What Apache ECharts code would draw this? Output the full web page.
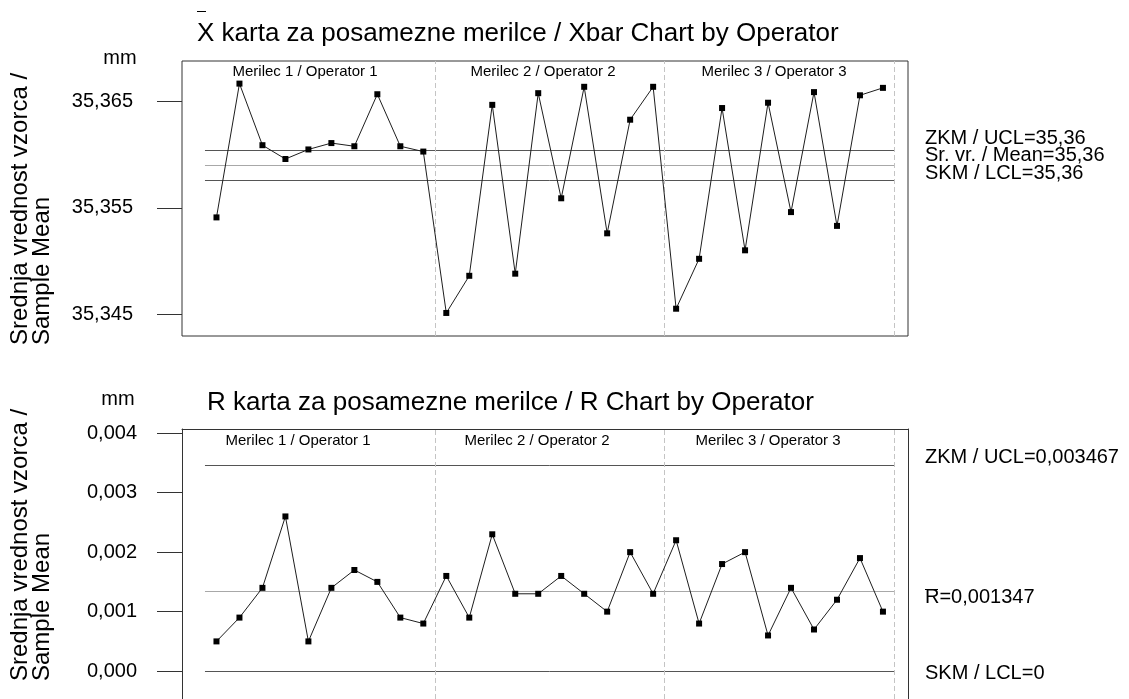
<!DOCTYPE html>
<html>
<head>
<meta charset="utf-8">
<script src="https://cdn.jsdelivr.net/npm/echarts@6/dist/echarts.min.js"></script>
<style>
  html, body { margin: 0; padding: 0; background: #fff; }
  #chart { width: 1129px; height: 699px; }
</style>
</head>
<body>
<div id="chart"></div>
<script>
// Sample numbers (subgroups), 10 per operator
const samples = [1, 2, 3, 4, 5, 6, 7, 8, 9, 10,
                 11, 12, 13, 14, 15, 16, 17, 18, 19, 20,
                 21, 22, 23, 24, 25, 26, 27, 28, 29, 30];
const operators = ['Merilec 1 / Operator 1', 'Merilec 2 / Operator 2', 'Merilec 3 / Operator 3'];
// Operator boundaries on the sample axis
const operatorBreaks = [10.5, 20.5, 30.5];

// Subgroup means (mm)
const xbarValues = [35.3541, 35.3667, 35.3609, 35.3596, 35.3605, 35.3611, 35.3608, 35.3657, 35.3608, 35.3603,
                    35.3451, 35.3486, 35.3647, 35.3488, 35.3658, 35.3559, 35.3664, 35.3526, 35.3633, 35.3664,
                    35.3455, 35.3502, 35.3644, 35.3510, 35.3649, 35.3546, 35.3659, 35.3533, 35.3656, 35.3663];
// Subgroup ranges (mm)
const rValues = [0.0005, 0.0009, 0.0014, 0.0026, 0.0005, 0.0014, 0.0017, 0.0015, 0.0009, 0.0008,
                 0.0016, 0.0009, 0.0023, 0.0013, 0.0013, 0.0016, 0.0013, 0.0010, 0.0020, 0.0013,
                 0.0022, 0.0008, 0.0018, 0.0020, 0.0006, 0.0014, 0.0007, 0.0012, 0.0019, 0.0010];

// Control limits
const xbarUCL = 35.3604, xbarMean = 35.3590, xbarLCL = 35.3576;
const rUCL = 0.003467, rLCL = 0;
const rBar = rValues.reduce((a, b) => a + b, 0) / rValues.length;

// Axis tick values
const xbarTicks = [35.345, 35.355, 35.365];
const rTicks = [0, 0.001, 0.002, 0.003, 0.004];

const FONT = '"Liberation Sans", Arial, sans-serif';
const FRAME = '#333';
const comma = (v, d) => v.toFixed(d).replace('.', ',');

const pairs = (vals) => vals.map((v, i) => [samples[i], v]);

function limitLine(y, color) {
  return [
    { coord: [0.5, y], lineStyle: { color: color, width: 1, type: 'solid' } },
    { coord: [30.5, y] }
  ];
}

function breakLines() {
  return operatorBreaks.map(x => ({
    xAxis: x,
    lineStyle: { color: '#c4c4c4', width: 1, type: [5, 3] }
  }));
}

const chart = echarts.init(document.getElementById('chart'), null, { renderer: 'canvas' });

const X_MIN = -0.5, X_MAX = 31.09;
const hidden = { axisTick: { show: false }, axisLabel: { show: false }, splitLine: { show: false } };

const yAxisBase = (ticks, decimals, margin, showLine) => ({
  type: 'value',
  axisLine: { show: showLine, onZero: false, lineStyle: { color: FRAME, width: 1 } },
  splitLine: { show: false },
  axisTick: {
    show: true, customValues: ticks, length: 25, inside: false,
    lineStyle: { color: FRAME, width: 1 }
  },
  axisLabel: {
    show: true, customValues: ticks, margin: margin,
    fontFamily: FONT, fontSize: 20, color: '#000',
    formatter: v => comma(v, decimals)
  }
});

const seriesStyle = {
  type: 'line',
  symbol: 'rect', symbolSize: 6,
  lineStyle: { color: '#1e1e1e', width: 1 },
  itemStyle: { color: '#000' },
  silent: true,
  z: 5
};

const texts = [];
function addText(x, y, text, size, align, rotation) {
  texts.push({
    type: 'text', x: x, y: y, rotation: rotation || 0, silent: true,
    style: {
      text: text, fontFamily: FONT, fontSize: size, fill: '#000',
      align: align || 'left', verticalAlign: 'middle'
    }
  });
}

// Panel titles
addText(197, 34, 'X karta za posamezne merilce / Xbar Chart by Operator', 26, 'left');
addText(207, 403, 'R karta za posamezne merilce / R Chart by Operator', 26, 'left');
// Units
addText(120, 58, 'mm', 20, 'center');
addText(118, 399, 'mm', 20, 'center');
// Rotated axis titles
addText(20, 345, 'Srednja vrednost vzorca /', 24, 'left', Math.PI / 2);
addText(42, 345, 'Sample Mean', 24, 'left', Math.PI / 2);
addText(20, 681, 'Srednja vrednost vzorca /', 24, 'left', Math.PI / 2);
addText(42, 681, 'Sample Mean', 24, 'left', Math.PI / 2);
// Operator labels
[305, 543, 774].forEach((x, i) => addText(x, 72, operators[i], 15, 'center'));
[298, 537, 768].forEach((x, i) => addText(x, 441, operators[i], 15, 'center'));
// Limit labels
addText(925, 138, 'ZKM / UCL=' + comma(xbarUCL, 2), 20, 'left');
addText(925, 155, 'Sr. vr. / Mean=' + comma(xbarMean, 2), 20, 'left');
addText(925, 173, 'SKM / LCL=' + comma(xbarLCL, 2), 20, 'left');
addText(925, 457, 'ZKM / UCL=' + comma(rUCL, 6), 20, 'left');
addText(925, 597, 'R=' + comma(rBar, 6), 20, 'left');
addText(925, 673, 'SKM / LCL=' + (rLCL === 0 ? '0' : comma(rLCL, 6)), 20, 'left');

// Overbars on X and R
const bars = [
  { type: 'line', silent: true, shape: { x1: 197, y1: 11.5, x2: 206, y2: 11.5 }, style: { stroke: '#000', lineWidth: 1 } },
  { type: 'line', silent: true, shape: { x1: 925, y1: 589.5, x2: 938, y2: 589.5 }, style: { stroke: '#000', lineWidth: 1 } }
];

chart.setOption({
  animation: false,
  backgroundColor: '#fff',
  grid: [
    { left: 182, top: 61, width: 726, height: 275, show: true, borderColor: FRAME, borderWidth: 1, backgroundColor: 'transparent' },
    // lower panel runs past the bottom edge; its frame is drawn by the axis lines
    { left: 182, top: 429, width: 726, height: 281, show: false }
  ],
  xAxis: [
    Object.assign({ gridIndex: 0, type: 'value', min: X_MIN, max: X_MAX, axisLine: { show: false } }, hidden),
    Object.assign({ gridIndex: 1, type: 'value', min: X_MIN, max: X_MAX, position: 'top',
      axisLine: { show: true, onZero: false, lineStyle: { color: FRAME, width: 1 } } }, hidden)
  ],
  yAxis: [
    Object.assign({ gridIndex: 0, min: 35.34293, max: 35.36883 }, yAxisBase(xbarTicks, 3, 49, false)),
    Object.assign({ gridIndex: 1, min: -0.000468, max: 0.0040694 }, yAxisBase(rTicks, 3, 45, true)),
    Object.assign({ gridIndex: 1, type: 'value', min: -0.000468, max: 0.0040694, position: 'right',
      axisLine: { show: true, onZero: false, lineStyle: { color: FRAME, width: 1 } } }, hidden)
  ],
  series: [
    Object.assign({
      name: 'Xbar', xAxisIndex: 0, yAxisIndex: 0, data: pairs(xbarValues),
      markLine: {
        silent: true, symbol: 'none', label: { show: false }, z: 2,
        data: [
          limitLine(xbarUCL, '#555'),
          limitLine(xbarMean, '#a8a8a8'),
          limitLine(xbarLCL, '#555')
        ].concat(breakLines())
      }
    }, seriesStyle),
    Object.assign({
      name: 'R', xAxisIndex: 1, yAxisIndex: 1, data: pairs(rValues),
      markLine: {
        silent: true, symbol: 'none', label: { show: false }, z: 2,
        data: [
          limitLine(rUCL, '#555'),
          limitLine(rBar, '#a8a8a8'),
          limitLine(rLCL, '#555')
        ].concat(breakLines())
      }
    }, seriesStyle)
  ],
  graphic: texts.concat(bars)
});
</script>
</body>
</html>
